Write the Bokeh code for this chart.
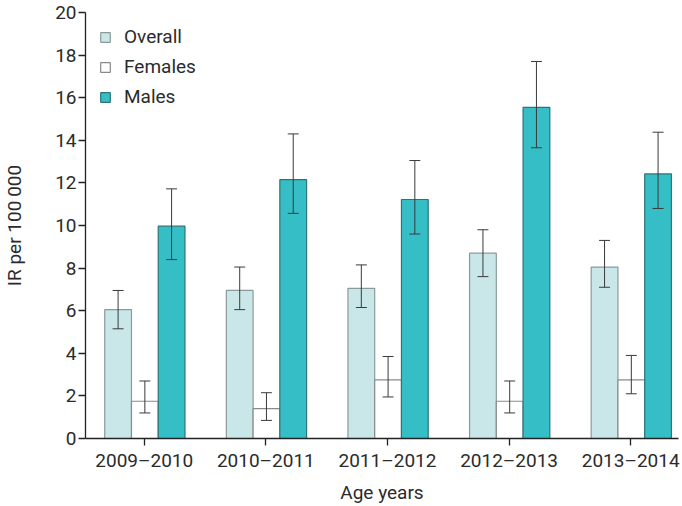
from bokeh.plotting import figure
from bokeh.models import Range1d, FixedTicker, Legend, LegendItem, ColumnDataSource
from bokeh.embed import file_html
from bokeh.resources import INLINE

categories = ["2009\u20132010", "2010\u20132011", "2011\u20132012", "2012\u20132013", "2013\u20132014"]

overall = [6.05, 6.95, 7.05, 8.7, 8.05]
overall_lo = [5.15, 6.05, 6.15, 7.6, 7.1]
overall_hi = [6.95, 8.05, 8.15, 9.8, 9.3]

females = [1.75, 1.4, 2.75, 1.75, 2.75]
females_lo = [1.2, 0.85, 1.95, 1.2, 2.1]
females_hi = [2.7, 2.15, 3.85, 2.7, 3.9]

males = [9.97, 12.15, 11.22, 15.55, 12.42]
males_lo = [8.4, 10.57, 9.6, 13.65, 10.8]
males_hi = [11.72, 14.3, 13.05, 17.7, 14.38]

y_ticks = [0, 2, 4, 6, 8, 10, 12, 14, 16, 18, 20]

FONT = "Roboto"
TXT = "#2b2b2b"

p = figure(width=682, height=506, output_backend="svg", toolbar_location=None,
           x_range=Range1d(-0.483, 4.393), y_range=Range1d(0, 20),
           min_border_left=82, min_border_right=4, min_border_top=12, min_border_bottom=68)
p.outline_line_color = None
p.xgrid.grid_line_color = None
p.ygrid.grid_line_color = None
p.background_fill_color = "white"

xs = list(range(len(categories)))
bw = 0.22
offs = [-0.215, 0.005, 0.225]
specs = [
    ("Overall", overall, overall_lo, overall_hi, "#c9e7e9", "#8a9a9b"),
    ("Females", females, females_lo, females_hi, "#ffffff", "#8a8a8a"),
    ("Males", males, males_lo, males_hi, "#35bec5", "#2c7478"),
]
items = []
for (name, vals, lo, hi, fill, line), off in zip(specs, offs):
    src = ColumnDataSource(dict(x=[x + off for x in xs], top=vals, lo=lo, hi=hi,
                                cl=[x + off - 0.045 for x in xs], cr=[x + off + 0.045 for x in xs]))
    r = p.vbar(x="x", top="top", width=bw, bottom=0, source=src,
               fill_color=fill, line_color=line, line_width=1.2)
    items.append(LegendItem(label=name, renderers=[r]))
    p.segment(x0="x", x1="x", y0="lo", y1="hi", source=src, line_color="#3a3a3a", line_width=1)
    p.segment(x0="cl", x1="cr", y0="hi", y1="hi", source=src, line_color="#3a3a3a", line_width=1)
    p.segment(x0="cl", x1="cr", y0="lo", y1="lo", source=src, line_color="#3a3a3a", line_width=1)

legend = Legend(items=items, location=(14, 330))
legend.border_line_color = None
legend.background_fill_alpha = 0
legend.label_text_font = FONT
legend.label_text_font_size = "19px"
legend.label_text_color = TXT
legend.glyph_width = 12
legend.glyph_height = 12
legend.label_height = 22
legend.spacing = 7
legend.margin = 0
legend.padding = 0
legend.label_standoff = 13
p.add_layout(legend)

p.xaxis.ticker = FixedTicker(ticks=xs)
p.xaxis.major_label_overrides = {i: c for i, c in enumerate(categories)}
p.yaxis.ticker = FixedTicker(ticks=y_ticks)
for ax in (p.xaxis, p.yaxis):
    ax.axis_line_color = "#222222"
    ax.axis_line_width = 1.3
    ax.major_tick_line_color = "#222222"
    ax.major_tick_line_width = 1.3
    ax.major_tick_out = 7
    ax.major_tick_in = 0
    ax.minor_tick_line_color = None
    ax.major_label_text_font = FONT
    ax.major_label_text_font_size = "19px"
    ax.major_label_text_color = TXT
    ax.axis_label_text_font = FONT
    ax.axis_label_text_font_size = "19px"
    ax.axis_label_text_color = TXT
    ax.axis_label_text_font_style = "normal"
p.xaxis.axis_label = "Age years"
p.yaxis.axis_label = "IR per 100\u2009000"
p.xaxis.major_label_standoff = 3
p.yaxis.major_label_standoff = 2
p.xaxis.axis_label_standoff = 6
p.yaxis.axis_label_standoff = 26

open("out.html", "w").write(file_html(p, INLINE))
